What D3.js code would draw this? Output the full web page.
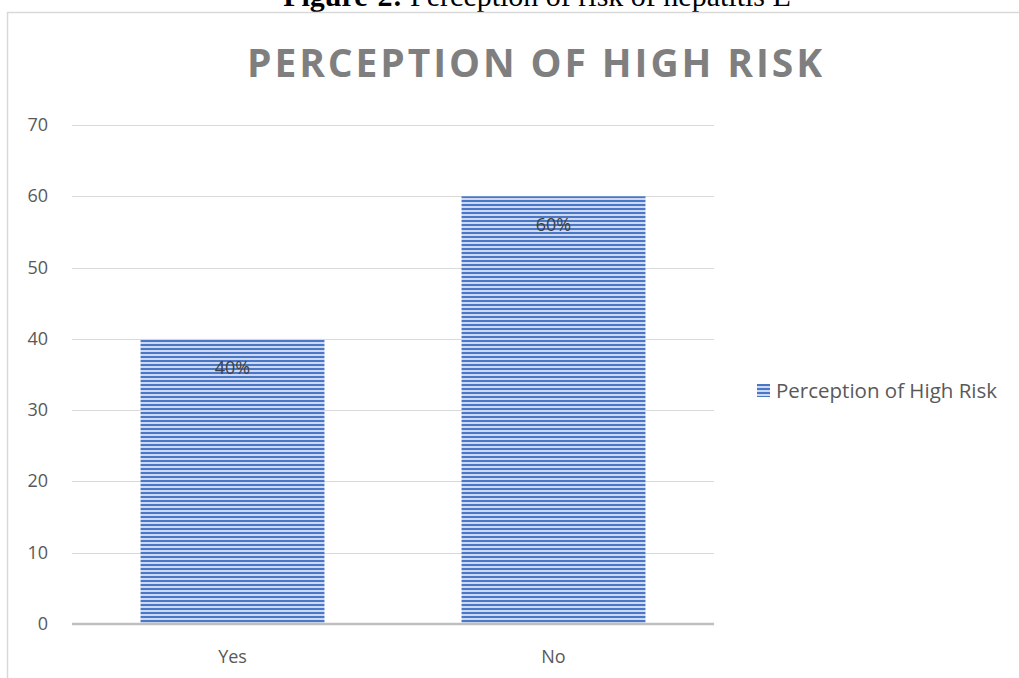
<!DOCTYPE html>
<html>
<head>
<meta charset="utf-8">
<script src="https://d3js.org/d3.v7.min.js"></script>
<style>
  body { margin: 0; background: #fff; }
  text { font-family: "Open Sans", "Noto Sans", sans-serif; }
</style>
</head>
<body>
<div id="chart"></div>
<script>
// chart data
const categories = ["Yes", "No"];
const values = [40, 60];
const labels = ["40%", "60%"];
const yTicks = [0, 10, 20, 30, 40, 50, 60, 70];
const seriesName = "Perception of High Risk";

const W = 1019, H = 678;
const plot = { left: 72, right: 714, top: 125, bottom: 624 };

const svg = d3.select("#chart").append("svg")
  .attr("width", W)
  .attr("height", H);

// stripe pattern for bars
const defs = svg.append("defs");
const pat = defs.append("pattern")
  .attr("id", "stripes")
  .attr("patternUnits", "userSpaceOnUse")
  .attr("width", 8).attr("height", 4);
pat.append("rect").attr("width", 8).attr("height", 4).attr("fill", "#ccd9f0");
pat.append("rect").attr("width", 8).attr("height", 2).attr("fill", "#4a77c6");

// page caption (cut off at top, as in the source)
svg.append("text")
  .attr("x", 537).attr("y", 6)
  .attr("text-anchor", "middle")
  .style("font-family", "'Liberation Serif', 'Times New Roman', serif")
  .style("font-size", "30px")
  .attr("fill", "#000")
  .html('<tspan font-weight="bold">Figure-2:</tspan> Perception of risk of hepatitis E');

// chart frame
svg.append("path")
  .attr("d", `M7.5,${H} V12.5 H${W}`)
  .attr("fill", "none")
  .attr("stroke", "#d9d9d9")
  .attr("stroke-width", 1.5);

const x = d3.scaleBand()
  .domain(categories)
  .range([plot.left, plot.right])
  .paddingInner(0.427)
  .paddingOuter(0.2135);

const y = d3.scaleLinear()
  .domain([0, 70])
  .range([plot.bottom, plot.top]);

// gridlines
svg.append("g")
  .selectAll("line")
  .data(yTicks.filter(d => d > 0))
  .join("line")
  .attr("x1", plot.left).attr("x2", plot.right)
  .attr("y1", d => Math.round(y(d)) + 0.5).attr("y2", d => Math.round(y(d)) + 0.5)
  .attr("stroke", "#d9d9d9");

// y labels
svg.append("g")
  .selectAll("text")
  .data(yTicks)
  .join("text")
  .attr("x", 48)
  .attr("y", d => y(d) + 6)
  .attr("text-anchor", "end")
  .attr("fill", "#595959")
  .style("font-size", "18px")
  .text(d => d);

// bars
svg.append("g")
  .selectAll("rect")
  .data(values)
  .join("rect")
  .attr("x", (d, i) => x(categories[i]))
  .attr("y", d => y(d))
  .attr("width", x.bandwidth())
  .attr("height", d => y(0) - y(d))
  .attr("fill", "url(#stripes)");

// axis line
svg.append("line")
  .attr("x1", plot.left).attr("x2", plot.right)
  .attr("y1", plot.bottom).attr("y2", plot.bottom)
  .attr("stroke", "#bfbfbf")
  .attr("stroke-width", 2.5);

// data labels
svg.append("g")
  .selectAll("text")
  .data(values)
  .join("text")
  .attr("x", (d, i) => x(categories[i]) + x.bandwidth() / 2)
  .attr("y", d => y(d) + 35)
  .attr("text-anchor", "middle")
  .attr("fill", "#404040")
  .style("font-size", "18px")
  .text((d, i) => labels[i]);

// x labels
svg.append("g")
  .selectAll("text")
  .data(categories)
  .join("text")
  .attr("x", d => x(d) + x.bandwidth() / 2)
  .attr("y", 663)
  .attr("text-anchor", "middle")
  .attr("fill", "#595959")
  .style("font-size", "18px")
  .text(d => d);

// title
svg.append("text")
  .attr("x", 536).attr("y", 77)
  .attr("text-anchor", "middle")
  .attr("fill", "#7f7f7f")
  .style("font-size", "39px")
  .style("font-weight", "bold")
  .style("letter-spacing", "2.9px")
  .text("PERCEPTION OF HIGH RISK");

// legend
const lg = svg.append("g").attr("transform", "translate(757,384)");
lg.append("rect").attr("width", 13).attr("height", 13).attr("fill", "url(#stripes)");
lg.append("text")
  .attr("x", 19).attr("y", 14)
  .attr("fill", "#595959")
  .style("font-size", "20.5px")
  .text(seriesName);
</script>
</body>
</html>
